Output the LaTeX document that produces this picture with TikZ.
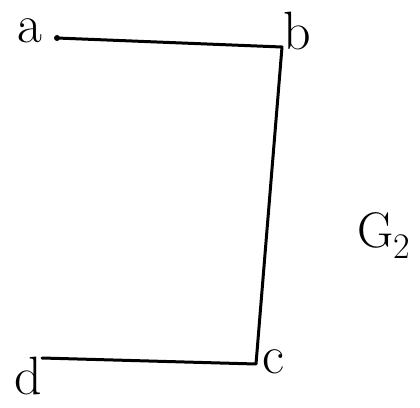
\documentclass[tikz,border=0pt]{standalone}
\usepackage{fontspec}
\begin{document}
\begin{tikzpicture}[x=1pt,y=-1pt,
  edge/.style={line width=3pt,line cap=round,line join=round},
  lbl/.style={font=\fontsize{54}{54}\selectfont,inner sep=0pt}]
\useasboundingbox (0,0) rectangle (420,407);
\coordinate (a) at (57,38);
\coordinate (b) at (282,47);
\coordinate (c) at (256,364);
\coordinate (d) at (42,358);
\fill (a) circle (3pt);
\draw[edge] (a) -- (b) -- (c) -- (d);
\node[lbl] (la) at (30,31) {a};
\node[lbl] (lb) at (297,31) {b};
\node[lbl] (lc) at (273,362) {c};
\node[lbl] (ld) at (28,376) {d};
\node[lbl,font=\fontsize{50}{50}\selectfont] (g) at (384,236) {G\raisebox{-11pt}{\fontsize{36}{36}\selectfont 2}};
\end{tikzpicture}
\end{document}
